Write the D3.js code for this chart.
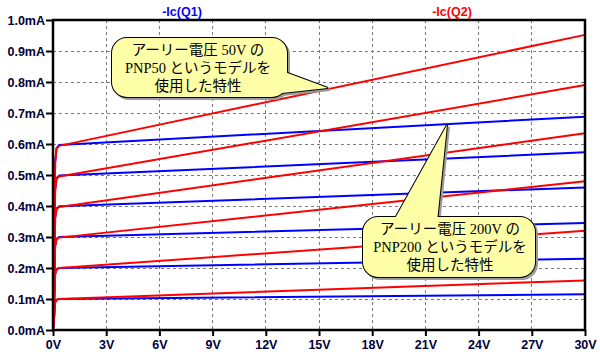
<!DOCTYPE html>
<html>
<head>
<meta charset="utf-8">
<script src="https://cdn.jsdelivr.net/npm/d3@7"></script>
<style>
  html, body { margin: 0; padding: 0; background: #fff; }
  svg { display: block; }
</style>
</head>
<body>
<div id="chart"></div>
<script>
// ---- data ----
const vPts = [0, 0.08, 0.12, 0.2, 0.35, 30];           // Vce points (V)
const q1Curves = [                                      // -Ic(Q1), mA (Early 200V)
  [0, 0.05, 0.090, 0.098, 0.100, 0.115],
  [0, 0.10, 0.180, 0.196, 0.200, 0.230],
  [0, 0.15, 0.270, 0.294, 0.300, 0.345],
  [0, 0.20, 0.360, 0.392, 0.399, 0.460],
  [0, 0.25, 0.450, 0.490, 0.498, 0.573],
  [0, 0.30, 0.540, 0.587, 0.597, 0.688]
];
const q2Curves = [                                      // -Ic(Q2), mA (Early 50V)
  [0, 0.05, 0.088, 0.097, 0.100, 0.160],
  [0, 0.10, 0.180, 0.195, 0.200, 0.320],
  [0, 0.15, 0.270, 0.293, 0.298, 0.480],
  [0, 0.20, 0.360, 0.390, 0.397, 0.635],
  [0, 0.25, 0.450, 0.488, 0.495, 0.790],
  [0, 0.30, 0.540, 0.585, 0.594, 0.952]
];
const xTicks = [0, 3, 6, 9, 12, 15, 18, 21, 24, 27, 30];
const yTicks = [0, 0.1, 0.2, 0.3, 0.4, 0.5, 0.6, 0.7, 0.8, 0.9, 1.0];
const seriesNames = ["-Ic(Q1)", "-Ic(Q2)"];
const note1 = ["アーリー電圧 50V の", "PNP50 というモデルを", "使用した特性"];
const note2 = ["アーリー電圧 200V の", "PNP200 というモデルを", "使用した特性"];

// ---- layout ----
const W = 600, H = 360;
const L = 53, R = 585, T = 20, B = 330;
const svg = d3.select("#chart").append("svg").attr("width", W).attr("height", H);

const x = d3.scaleLinear().domain([0, 30]).range([L, R]);
const y = d3.scaleLinear().domain([0, 1.0]).range([B, T]);

const labelColor = "#00003a";
const labelFont = "bold 12.5px 'Liberation Sans', Arial, sans-serif";

// grid
const grid = svg.append("g");
grid.selectAll("line.gx").data(xTicks.slice(1, -1)).join("line")
  .attr("x1", d => x(d)).attr("x2", d => x(d)).attr("y1", T).attr("y2", B)
  .attr("stroke", "#7a7a7a").attr("stroke-width", 1).attr("stroke-dasharray", "3,3")
  .attr("shape-rendering", "crispEdges");
grid.selectAll("line.gy").data(yTicks.slice(1, -1)).join("line")
  .attr("x1", L).attr("x2", R).attr("y1", d => y(d)).attr("y2", d => y(d))
  .attr("stroke", "#7a7a7a").attr("stroke-width", 1).attr("stroke-dasharray", "3,3")
  .attr("shape-rendering", "crispEdges");

// axes
const xAxis = d3.axisBottom(x).tickValues(xTicks).tickFormat(d => d + "V").tickSize(6).tickSizeOuter(0).tickPadding(4);
const yAxis = d3.axisLeft(y).tickValues(yTicks).tickFormat(d => d3.format(".1f")(d) + "mA").tickSize(7).tickSizeOuter(0).tickPadding(1);
const gx = svg.append("g").attr("transform", `translate(0,${B})`).call(xAxis);
const gy = svg.append("g").attr("transform", `translate(${L},0)`).call(yAxis);
[gx, gy].forEach(g => {
  g.select(".domain").remove();
  g.selectAll(".tick line").attr("stroke", "#000").attr("stroke-width", 2);
  g.selectAll(".tick text").style("font", labelFont).attr("fill", labelColor);
});

// curves
const line = d3.line().x((d, i) => x(vPts[i])).y(d => y(d));
const curves = svg.append("g").attr("fill", "none").attr("stroke-width", 2).attr("stroke-linejoin", "round");
curves.selectAll("path.q1").data(q1Curves).join("path").attr("class", "q1")
  .attr("d", line).attr("stroke", "#0000ff");
curves.selectAll("path.q2").data(q2Curves).join("path").attr("class", "q2")
  .attr("d", line).attr("stroke", "#ff0000");

// frame
svg.append("rect").attr("x", L).attr("y", T).attr("width", R - L).attr("height", B - T)
  .attr("fill", "none").attr("stroke", "#000").attr("stroke-width", 2.5);

// series titles
const titleFont = "bold 12.5px 'Liberation Sans', Arial, sans-serif";
svg.append("text").attr("x", 182).attr("y", 16).attr("text-anchor", "middle")
  .style("font", titleFont).attr("fill", "#0000ff").text(seriesNames[0]);
svg.append("text").attr("x", 452).attr("y", 16).attr("text-anchor", "middle")
  .style("font", titleFont).attr("fill", "#ff0000").text(seriesNames[1]);

// callouts
function callout(box, tail, lines, cx, y0) {
  const g = svg.append("g");
  const r = 15;
  const draw = (grp, dx, dy, fill, stroke, sw) => {
    grp.append("rect").attr("x", box[0] + dx).attr("y", box[1] + dy)
      .attr("width", box[2] - box[0]).attr("height", box[3] - box[1])
      .attr("rx", r).attr("ry", r)
      .attr("fill", fill).attr("stroke", stroke).attr("stroke-width", sw);
    grp.append("polygon").attr("points", tail.map(p => [p[0] + dx, p[1] + dy].join(",")).join(" "))
      .attr("fill", fill).attr("stroke", stroke).attr("stroke-width", sw).attr("stroke-linejoin", "miter");
  };
  draw(g, 2, 2, "#9a9a9a", "#9a9a9a", 2);     // shadow
  draw(g, 0, 0, "#000", "#000", 2);           // outline (union trick)
  draw(g, 0, 0, "#ffffa8", "none", 0);        // fill
  const t = g.append("text").attr("text-anchor", "middle")
    .style("font-family", "'Liberation Serif', 'Noto Sans CJK JP', serif")
    .style("font-size", "14.5px").attr("fill", "#000");
  lines.forEach((s, i) => t.append("tspan").attr("x", cx).attr("y", y0 + i * 18).text(s));
}
callout([112, 38, 287, 97], [[282, 71], [328, 88], [282, 93]], note1, 198, 55);
callout([363, 217, 535, 277], [[393, 222], [447, 125], [437, 222]], note2, 450, 234);
</script>
</body>
</html>
